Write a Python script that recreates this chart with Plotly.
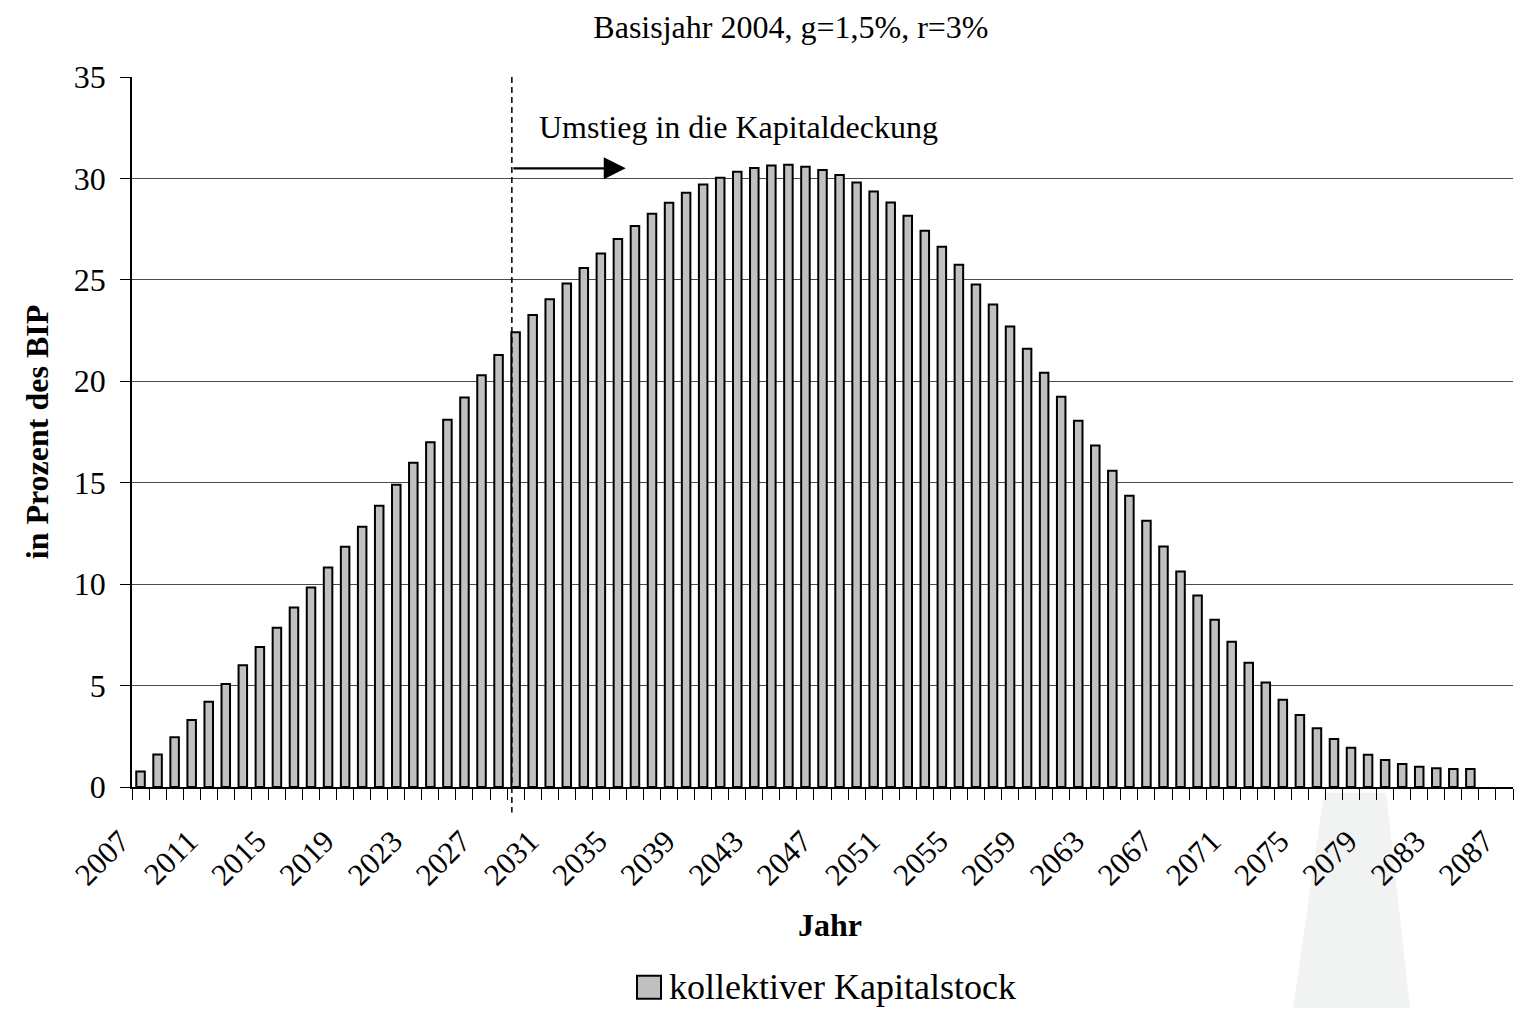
import plotly.graph_objects as go

# Collective capital stock, in percent of GDP, per year
years = list(range(2007, 2086))
kapitalstock = [
    0.77, 1.6, 2.45, 3.3, 4.2, 5.08, 6.0, 6.9, 7.85, 8.85,
    9.83, 10.82, 11.84, 12.83, 13.86, 14.9, 15.98, 17.0, 18.1, 19.2,
    20.3, 21.3, 22.42, 23.27, 24.05, 24.82, 25.59, 26.3, 27.01, 27.65,
    28.26, 28.8, 29.29, 29.7, 30.03, 30.33, 30.51, 30.64, 30.67, 30.58,
    30.42, 30.17, 29.8, 29.35, 28.81, 28.16, 27.42, 26.63, 25.74, 24.77,
    23.78, 22.7, 21.6, 20.42, 19.24, 18.06, 16.83, 15.59, 14.36, 13.13,
    11.85, 10.62, 9.44, 8.25, 7.16, 6.12, 5.15, 4.3, 3.55, 2.89,
    2.37, 1.94, 1.59, 1.33, 1.13, 1.0, 0.92, 0.89, 0.89,
]
tick_years = list(range(2007, 2088, 4))
axis_start, axis_end = 2006.5, 2087.5
umstieg_jahr = 2028.78   # switch-over to funded pensions

FONT = "Liberation Serif"
BAR_FILL = "#c0c0c0"

fig = go.Figure()
fig.add_trace(go.Bar(
    x=years, y=kapitalstock,
    name="kollektiver Kapitalstock",
    marker=dict(color=BAR_FILL, line=dict(color="black", width=2)),
    showlegend=False,
))

fig.update_layout(
    width=1519, height=1009,
    margin=dict(l=132, r=6, t=77, b=222, autoexpand=False),
    paper_bgcolor="white", plot_bgcolor="white",
    bargap=0.5,
    font=dict(family=FONT, color="black", size=32),
    title=dict(
        text="Basisjahr 2004, g=1,5%, r=3%",
        font=dict(family=FONT, size=32, color="black"),
        x=0.5207, xref="container", xanchor="center",
        y=1 - 27 / 1009, yref="container", yanchor="middle",
    ),
    xaxis=dict(
        range=[axis_start, axis_end],
        tickmode="array", tickvals=tick_years,
        ticktext=[str(t) for t in tick_years],
        tickangle=-45, ticks="",
        tickfont=dict(family=FONT, size=31),
        ticklabelstandoff=22, ticklabelshift=-20,
        showgrid=False, zeroline=False,
        showline=True, linecolor="black", linewidth=1.5,
        minor=dict(tick0=axis_start, dtick=1, ticks="outside",
                   ticklen=11, tickwidth=1.2, tickcolor="black",
                   showgrid=False),
    ),
    yaxis=dict(
        range=[0, 35], dtick=5, tick0=0,
        ticks="outside", ticklen=10, tickwidth=1.2, tickcolor="black",
        tickfont=dict(family=FONT, size=32),
        ticklabelstandoff=8,
        showgrid=True, gridcolor="#4a4a4a", gridwidth=1,
        zeroline=False,
        showline=True, linecolor="black", linewidth=1.5,
        title=dict(text="<b>in Prozent des BIP</b>",
                   font=dict(family=FONT, size=32), standoff=16),
    ),
)

# faint light wedge at the lower right
fig.add_shape(type="path", xref="paper", yref="paper",
              path="M 0.8632 -0.0080 L 0.9081 -0.0080 L 0.9254 -0.3116 L 0.8407 -0.3116 Z",
              fillcolor="#f1f2f2", line=dict(width=0), layer="below")

# dashed marker for the switch-over year
fig.add_shape(type="line", xref="x", yref="paper",
              x0=umstieg_jahr, x1=umstieg_jahr, y0=1, y1=-0.036,
              line=dict(color="black", width=1.5, dash="6px,4px"))

# arrow pointing forward from the switch-over
fig.add_annotation(x=2035.46, y=30.5, xref="x", yref="y",
                   ax=umstieg_jahr, ay=30.5, axref="x", ayref="y",
                   showarrow=True, arrowhead=2, arrowsize=2.0,
                   arrowwidth=2.2, arrowcolor="black", text="")
fig.add_annotation(x=2030.24, y=32.54, xref="x", yref="y",
                   text="Umstieg in die Kapitaldeckung",
                   showarrow=False, xanchor="left", yanchor="middle",
                   font=dict(family=FONT, size=32))

# x-axis title
fig.add_annotation(x=0.5054, y=-0.194, xref="paper", yref="paper",
                   text="<b>Jahr</b>", showarrow=False,
                   xanchor="center", yanchor="middle",
                   font=dict(family=FONT, size=32))

# legend entry
fig.add_shape(type="rect", xref="paper", yref="paper",
              x0=(637 - 132) / 1381, x1=(661 - 132) / 1381,
              y0=(787.3 - 999) / 710, y1=(787.3 - 976) / 710,
              fillcolor=BAR_FILL, line=dict(color="black", width=2))
fig.add_annotation(x=(667 - 132) / 1381, y=(787.3 - 987) / 710,
                   xref="paper", yref="paper",
                   text="kollektiver Kapitalstock", showarrow=False,
                   xanchor="left", yanchor="middle",
                   font=dict(family=FONT, size=36))

fig.write_html("out.html")
